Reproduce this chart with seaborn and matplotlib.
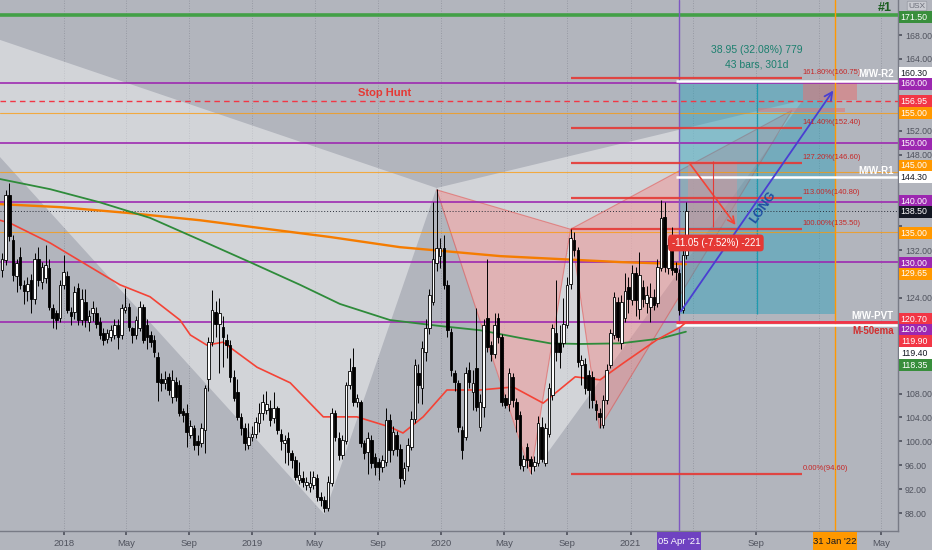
import numpy as np
import pandas as pd
import matplotlib
matplotlib.use("Agg")
import matplotlib.pyplot as plt
import matplotlib.dates as mdates
from matplotlib.patches import Polygon, Rectangle
import seaborn as sns

# weekly candles, first week 2017-09-04
opens = [128.7, 130.3, 141.2, 133.7, 127.6, 130.9, 126.2, 125.1, 127.0, 123.9,
         130.6, 126.7, 127.3, 129.0, 122.3, 121.4, 120.6, 126.2, 127.6, 121.7,
         121.7, 125.6, 120.3, 123.4, 119.9, 121.4, 121.4, 120.0, 118.1, 117.2,
         117.5, 117.8, 119.5, 117.8, 122.0, 122.5, 118.9, 117.8, 119.0, 122.5,
         119.5, 117.8, 117.0, 114.2, 110.5, 109.7, 110.8, 107.5, 110.0, 109.4,
         105.0, 104.7, 101.1, 102.2, 100.0, 99.7, 101.9, 110.5, 116.7, 121.7,
         119.7, 119.2, 117.0, 116.1, 110.8, 108.3, 104.1, 102.2, 99.4, 100.8,
         101.3, 103.0, 104.7, 105.2, 105.5, 103.9, 105.5, 101.3, 99.7, 100.5,
         98.0, 96.9, 93.5, 93.8, 92.7, 92.4, 92.7, 93.8, 90.7, 90.2,
         88.8, 93.0, 104.7, 100.5, 97.7, 100.0, 109.4, 112.5, 106.6, 106.6,
         99.7, 98.3, 100.2, 97.4, 96.6, 95.7, 96.6, 103.5, 98.5, 101.0,
         98.8, 93.5, 95.8, 99.1, 103.8, 111.4, 108.9, 115.0, 118.9, 123.4,
         129.8, 131.0, 132.3, 126.2, 118.3, 111.4, 109.7, 101.9, 100.8, 111.9,
         108.3, 112.2, 102.4, 105.8, 120.6, 116.1, 114.7, 120.6, 117.5, 107.2,
         106.3, 110.8, 106.6, 104.4, 95.8, 99.1, 97.1, 95.8, 96.3, 102.4,
         96.3, 101.3, 107.8, 118.1, 116.4, 116.4, 119.5, 126.4, 133.7, 132.0,
         112.8, 113.0, 111.1, 110.8, 106.3, 104.7, 102.7, 106.9, 112.8, 117.8,
         123.4, 116.4, 120.6, 125.9, 123.6, 128.1, 122.2, 125.9, 123.1, 122.5,
         124.2, 123.1, 129.0, 137.6, 129.0, 132.9, 129.0, 128.1, 122.0, 131.2]
closes = [130.6, 141.2, 134.3, 127.8, 129.8, 126.2, 125.1, 126.4, 123.9, 130.6,
          127.0, 129.2, 129.5, 122.5, 120.6, 120.3, 126.2, 128.4, 122.0, 120.9,
          125.0, 120.3, 123.9, 120.3, 120.9, 122.3, 119.7, 117.8, 117.0, 118.1,
          118.6, 119.5, 117.5, 122.3, 122.5, 119.2, 117.8, 120.3, 122.5, 117.0,
          117.5, 116.7, 115.0, 110.0, 109.7, 110.5, 108.6, 110.3, 107.5, 104.7,
          104.4, 101.6, 102.5, 99.4, 99.4, 102.2, 108.9, 116.7, 122.0, 119.7,
          121.4, 117.5, 116.1, 110.8, 107.2, 104.1, 102.2, 99.7, 100.8, 101.3,
          103.3, 104.7, 106.6, 106.3, 103.6, 105.5, 101.9, 100.0, 100.2, 98.3,
          96.9, 94.1, 94.4, 93.2, 93.2, 93.0, 94.1, 90.7, 90.2, 88.8,
          93.2, 104.7, 100.8, 97.7, 100.2, 109.4, 111.7, 106.6, 107.2, 99.7,
          98.0, 100.5, 96.3, 95.7, 95.7, 96.9, 103.5, 98.5, 101.5, 98.8,
          93.8, 95.5, 99.4, 103.8, 112.8, 109.4, 115.6, 118.9, 124.5, 130.6,
          132.3, 132.3, 126.2, 118.6, 111.9, 110.0, 102.4, 98.5, 111.4, 110.0,
          109.7, 105.8, 106.6, 119.5, 115.8, 114.7, 119.5, 117.5, 106.6, 106.1,
          111.4, 106.9, 103.8, 96.0, 97.1, 96.9, 95.8, 96.6, 103.0, 97.1,
          102.2, 108.9, 118.9, 115.0, 115.0, 119.7, 126.2, 134.0, 132.0, 113.3,
          113.6, 108.9, 108.6, 106.9, 105.2, 104.1, 106.9, 111.9, 118.1, 124.2,
          117.5, 123.4, 125.1, 123.9, 128.1, 123.6, 127.8, 123.9, 124.5, 124.2,
          122.8, 129.2, 137.3, 129.2, 132.9, 128.7, 128.4, 122.0, 131.2, 138.5]
highs = [131.5, 142.0, 143.2, 134.5, 130.5, 132.5, 127.0, 127.5, 128.0, 131.5,
         132.5, 130.0, 132.9, 130.5, 123.0, 122.0, 127.0, 131.2, 128.5, 122.5,
         126.0, 126.5, 125.5, 125.5, 122.0, 123.5, 122.5, 120.8, 119.0, 118.8,
         119.5, 120.5, 120.5, 123.0, 125.6, 123.2, 119.2, 121.0, 123.5, 123.0,
         120.5, 118.5, 117.8, 115.0, 111.5, 111.8, 111.5, 112.0, 110.8, 110.3,
         105.5, 106.3, 103.5, 102.8, 101.0, 103.0, 109.5, 117.5, 125.3, 123.5,
         124.0, 121.0, 118.0, 117.0, 112.0, 110.5, 104.8, 103.0, 103.0, 102.5,
         104.0, 106.5, 108.0, 108.5, 107.0, 108.2, 106.0, 102.0, 101.0, 101.5,
         98.6, 97.5, 96.5, 95.0, 94.0, 95.0, 95.0, 94.5, 91.5, 90.8,
         94.2, 105.5, 105.3, 101.5, 101.0, 110.0, 113.9, 115.6, 108.0, 107.0,
         100.2, 101.5, 101.0, 98.0, 97.2, 97.8, 105.5, 104.5, 102.5, 101.8,
         99.5, 96.5, 100.5, 105.0, 113.8, 113.0, 116.8, 120.5, 125.5, 140.1,
         142.3, 134.0, 134.5, 127.0, 119.0, 112.0, 110.3, 102.5, 112.5, 113.3,
         112.0, 122.3, 108.0, 120.5, 130.6, 116.8, 121.4, 121.4, 118.0, 108.0,
         112.2, 111.5, 107.2, 105.0, 97.8, 99.8, 97.5, 97.5, 104.2, 104.0,
         103.0, 109.8, 119.6, 127.0, 119.5, 124.0, 127.5, 135.5, 135.0, 132.5,
         114.5, 114.0, 112.0, 111.8, 107.0, 105.5, 107.8, 113.0, 118.8, 125.0,
         124.2, 124.5, 128.1, 127.5, 129.5, 129.2, 131.7, 127.0, 126.0, 126.5,
         125.5, 130.5, 140.4, 140.1, 134.0, 135.9, 130.0, 128.8, 132.0, 140.1]
lows = [127.5, 129.5, 133.5, 126.8, 125.0, 125.5, 123.0, 123.5, 121.5, 123.0,
        126.0, 125.5, 126.5, 122.0, 119.0, 118.8, 120.0, 125.5, 121.5, 119.5,
        120.5, 119.5, 119.5, 119.2, 118.5, 120.2, 119.0, 117.2, 116.2, 116.5,
        116.8, 117.2, 115.5, 117.2, 121.5, 118.5, 116.5, 117.2, 118.5, 116.5,
        115.5, 115.8, 114.2, 106.8, 108.5, 108.8, 107.8, 106.5, 106.8, 104.2,
        103.2, 99.1, 100.5, 98.5, 97.8, 99.0, 98.0, 108.5, 116.0, 117.5,
        111.4, 112.5, 114.0, 110.0, 106.8, 103.5, 101.0, 98.5, 98.8, 100.0,
        100.5, 101.5, 103.5, 104.5, 102.5, 103.0, 101.2, 98.5, 96.3, 96.0,
        95.5, 93.5, 92.8, 92.4, 91.8, 91.5, 92.0, 90.0, 89.2, 88.2,
        88.3, 92.5, 100.0, 96.8, 97.0, 99.5, 108.8, 106.0, 105.8, 99.0,
        97.0, 94.6, 95.5, 94.4, 93.5, 94.8, 95.8, 96.5, 97.8, 97.5,
        92.4, 92.8, 95.0, 98.5, 103.0, 106.5, 106.3, 113.5, 118.0, 122.8,
        128.5, 129.0, 125.5, 117.5, 111.0, 108.5, 101.5, 97.1, 100.2, 109.0,
        105.2, 105.0, 101.8, 104.0, 115.0, 113.5, 114.0, 116.5, 106.0, 105.5,
        105.0, 105.8, 101.5, 95.3, 95.0, 95.5, 94.6, 95.0, 95.8, 96.6,
        95.8, 100.8, 107.0, 113.5, 112.2, 115.8, 119.0, 125.5, 131.0, 112.5,
        109.5, 108.0, 105.5, 105.5, 103.5, 102.2, 102.2, 106.3, 112.3, 117.2,
        116.8, 115.5, 120.0, 121.5, 122.8, 121.0, 120.5, 122.5, 121.5, 120.0,
        122.0, 122.5, 128.5, 128.3, 128.0, 127.8, 127.0, 121.2, 121.5, 130.5]
candle_dates = pd.date_range("2017-09-04", periods=len(closes), freq="W-MON")

# moving averages
sma_dates = ["2017-08-31", "2017-12-25", "2018-05-09", "2018-09-22", "2019-01-16", "2019-05-31",
             "2019-10-13", "2019-12-30", "2020-04-24", "2020-08-18", "2020-12-12", "2021-04-18"]
sma_vals = [139.7, 139.2, 138.2, 137.0, 135.7, 134.2, 132.5, 131.9, 131.0, 130.5, 130.0, 129.65]
mid_dates = ["2017-08-31", "2017-12-06", "2018-03-12", "2018-06-17", "2018-09-22", "2018-12-27",
             "2019-04-03", "2019-06-19", "2019-09-24", "2019-12-30", "2020-03-16", "2020-06-02",
             "2020-07-30", "2020-09-26", "2020-12-12", "2021-02-27", "2021-04-18"]
mid_vals = [143.9, 142.2, 140.0, 137.4, 133.7, 130.0, 126.2, 123.0, 120.3, 119.3, 118.6, 117.3,
            116.4, 116.3, 116.4, 117.2, 118.35]
ema_dates = ["2017-08-31", "2017-09-20", "2017-12-06", "2018-02-21", "2018-04-20", "2018-06-17",
             "2018-08-14", "2018-09-03", "2018-10-05", "2018-11-05", "2019-01-10", "2019-03-15",
             "2019-05-18", "2019-07-22", "2019-09-24", "2019-10-19", "2019-11-27", "2020-01-12",
             "2020-03-16", "2020-05-19", "2020-07-16", "2020-09-16", "2020-11-03", "2020-12-18",
             "2021-02-21", "2021-04-07", "2021-04-18"]
ema_vals = [137.0, 136.5, 133.2, 129.2, 126.2, 124.2, 120.3, 117.8, 116.1, 116.6, 112.4, 109.8,
            104.1, 104.1, 102.4, 101.4, 104.1, 108.6, 108.6, 109.1, 106.4, 110.8, 110.3, 113.1,
            117.0, 119.1, 119.9]

# horizontal levels
purple_levels = [160.0, 150.0, 140.0, 130.0, 120.0]
orange_levels = [155.0, 145.0, 135.0]
green_level = 171.4
stop_hunt = 156.95
last_price = 138.5
white_levels = [160.30, 144.30, 119.40]
ema_level = 119.90
pivot_start = "2021-03-29"

# fib extension of the pink pattern
fib_names = ["161.80%", "141.40%", "127.20%", "113.00%", "100.00%", "0.00%"]
fib_prices = [160.75, 152.40, 146.60, 140.80, 135.50, 94.60]
fib_start, fib_end = "2020-09-07", "2021-11-29"

# harmonic patterns X, A, B, C, D
grey_dates = ["2016-11-07", "2019-05-20", "2019-12-23", "2020-06-22", "2021-11-30"]
grey_prices = [175.9, 87.8, 142.4, 94.2, 157.1]
pink_dates = ["2019-12-23", "2020-06-22", "2020-09-07", "2020-11-02", "2021-11-09"]
pink_prices = [142.1, 94.6, 135.5, 102.2, 155.4]

# long position and price range tools
long_start, long_end = "2021-04-05", "2022-01-31"
long_entry, long_target = 121.35, 160.30
long_mid = "2021-09-02"
range_start, range_end, range_mid = "2021-04-22", "2021-07-26", "2021-06-09"
range_top, range_bottom = 146.9, 135.85
target_box = ("2021-11-30", "2022-03-15", 157.1, 160.1)
target_bar = ("2021-09-04", "2022-02-20", 155.1, 155.8)

# right axis tags
tag_values = ["171.50", "160.30", "160.00", "156.95", "155.00", "150.00", "145.00", "144.30",
              "140.00", "138.50", "135.00", "130.00", "129.65", "120.70", "120.00", "119.90",
              "119.40", "118.35"]
tag_faces = ["#388e3c", "white", "#9c27b0", "#f23645", "#ff9800", "#9c27b0", "#ff9800", "white",
             "#9c27b0", "#131722", "#ff9800", "#9c27b0", "#ff9800", "#f23645", "#9c27b0", "#f23645",
             "white", "#388e3c"]
tag_rows = [17, 73, 84, 101, 113, 144, 166, 177, 201, 212, 233, 263, 274, 319, 330, 341, 353, 365]
hidden_ticks = [160, 156, 144, 140, 136, 128, 120, 116, 112]

BG = "#b2b5bd"
W, H = 932, 550

sns.set_theme(style="white")
plt.rcParams["font.family"] = ["Liberation Sans", "DejaVu Sans"]

fig = plt.figure(figsize=(W / 100, H / 100), dpi=100, facecolor=BG)
ax = fig.add_axes([0, 19 / H, 898 / W, 531 / H], facecolor=BG)


def num(d):
    return mdates.date2num(pd.Timestamp(d))


x_lo, x_hi = num("2017-08-31"), num("2022-06-02")
ax.set_xlim(x_lo, x_hi)
ax.set_ylim(85.0, 173.86)


def fig_x(d):
    return (num(d) - x_lo) / (x_hi - x_lo) * 898 / W


# patterns
gx = [num(d) for d in grey_dates]
px = [num(d) for d in pink_dates]
for idx in ([0, 1, 2], [2, 3, 4]):
    ax.add_patch(Polygon([(gx[i], grey_prices[i]) for i in idx], closed=True,
                         fc="white", ec="none", alpha=0.42, zorder=1))
for idx in ([0, 1, 2], [2, 3, 4]):
    ax.add_patch(Polygon([(px[i], pink_prices[i]) for i in idx], closed=True,
                         fc="#f28a8a", ec="#e53935", lw=0.8, alpha=0.45, zorder=1.2))

# long position box
ax.add_patch(Rectangle((num(long_start), long_entry), num(long_end) - num(long_start),
                       long_target - long_entry, fc="#2aa1bb", ec="none", alpha=0.45, zorder=1.3))
ax.vlines(num(long_mid), long_entry, long_target, color="#1e9bb0", lw=0.9, zorder=1.4)
ax.add_patch(Rectangle((num(target_box[0]), target_box[2]), num(target_box[1]) - num(target_box[0]),
                       target_box[3] - target_box[2], fc="#e57373", ec="none", alpha=0.55, zorder=1.4))
ax.add_patch(Rectangle((num(target_bar[0]), target_bar[2]), num(target_bar[1]) - num(target_bar[0]),
                       target_bar[3] - target_bar[2], fc="#e57373", ec="none", alpha=0.55, zorder=1.4))
ax.add_patch(Rectangle((num(range_start), range_bottom), num(range_end) - num(range_start),
                       range_top - range_bottom, fc="#f28a8a", ec="none", alpha=0.35, zorder=1.4))

# horizontal lines
ax.axhline(green_level, color="#43a047", lw=2.6, zorder=2)
for lv in purple_levels:
    ax.axhline(lv, color="#9c27b0", lw=1.3, alpha=0.9, zorder=2)
for lv in orange_levels:
    ax.axhline(lv, color="#ff9800", lw=0.8, alpha=0.7, zorder=2)
ax.axhline(stop_hunt, color="#f23645", lw=1.0, ls=(0, (4, 3)), zorder=2)
ax.axhline(last_price, color="#2a2e39", lw=0.7, ls=(0, (1, 2)), zorder=2)
ax.hlines(fib_prices, num(fib_start), num(fib_end), color="#e53935", lw=1.6, alpha=0.9, zorder=2.1)
ax.hlines(ema_level, num(pivot_start), x_hi, color="#f23645", lw=2.0, zorder=2.2)
ax.hlines(white_levels, num(pivot_start), x_hi, color="white", lw=1.8, zorder=2.2)

# vertical markers
ax.axvline(num(long_start), color="#7e57c2", lw=1.0, zorder=2)
ax.axvline(num(long_end), color="#ff9800", lw=1.0, zorder=2)

# moving averages
sns.lineplot(x=[num(d) for d in sma_dates], y=sma_vals, ax=ax, color="#f57c00", lw=1.7, zorder=3)
sns.lineplot(x=[num(d) for d in mid_dates], y=mid_vals, ax=ax, color="#2e8b3a", lw=1.3, zorder=3)
sns.lineplot(x=[num(d) for d in ema_dates], y=ema_vals, ax=ax, color="#f44336", lw=1.2, zorder=3)

# candles
xs = mdates.date2num(candle_dates)
o = np.array(opens)
c = np.array(closes)
up = c >= o
ax.vlines(xs, lows, highs, color="black", lw=0.7, zorder=4)
ax.bar(xs[up], (c - o)[up], bottom=o[up], width=5, color="white", edgecolor="black", lw=0.6, zorder=4.1)
ax.bar(xs[~up], (o - c)[~up], bottom=c[~up], width=5, color="black", edgecolor="black", lw=0.6, zorder=4.1)

# drawings on top
ax.annotate("", xy=(num(long_end), 159.1), xytext=(num(long_start), long_entry),
            arrowprops=dict(arrowstyle="->", color="#4a3fd1", lw=1.3, mutation_scale=14), zorder=5)
ax.text(num("2021-09-14"), 139.2, "LONG", color="#1e4fa3", fontsize=9, fontweight="bold",
        rotation=55, ha="center", va="center", zorder=6)
ax.annotate("", xy=(num(range_end), range_bottom), xytext=(num(range_start), range_top),
            arrowprops=dict(arrowstyle="->", color="#f44336", lw=1.2, mutation_scale=12), zorder=5)
ax.vlines(num(range_mid), range_bottom, range_top, color="#e53935", lw=0.8, zorder=5)
ax.text(num("2021-06-15"), 133.2, "-11.05 (-7.52%) -221", color="white", fontsize=7,
        ha="center", va="center", zorder=6,
        bbox=dict(boxstyle="round,pad=0.35", fc="#e53935", ec="none"))
ax.text(num(long_mid), 165.5, "38.95 (32.08%) 779", color="#1b7f6e", fontsize=7.5,
        ha="center", va="center", zorder=6)
ax.text(num(long_mid), 163.1, "43 bars, 301d", color="#1b7f6e", fontsize=7.5,
        ha="center", va="center", zorder=6)
ax.text(num("2019-09-14"), 158.3, "Stop Hunt", color="#e53935", fontsize=8, fontweight="bold",
        ha="center", va="center", zorder=6)
for name, p in zip(fib_names, fib_prices):
    ax.text(num(fib_end) + 1, p + 0.9, f"{name}({p:.2f})", color="#c62828", fontsize=5.5,
            ha="left", va="center", zorder=6)

for txt, yv, col in [("M/W-R2", 161.5, "white"), ("M/W-R1", 145.2, "white"),
                     ("M/W-PVT", 121.0, "white"), ("M-50ema", 118.5, "#d32f2f")]:
    ax.annotate(txt, xy=(0.995, yv), xycoords=("axes fraction", "data"), ha="right", va="center",
                color=col, fontsize=7, fontweight="bold", zorder=6)

# axes styling
ax.yaxis.tick_right()
ticks_y = np.arange(88, 169, 4)
ax.set_yticks(ticks_y)
ax.set_yticklabels(["" if v in hidden_ticks else f"{v:.2f}" for v in ticks_y])
tick_dates, tick_text = [], []
for yr in range(2018, 2023):
    for mo, lab in [(1, str(yr)), (5, "May"), (9, "Sep")]:
        d = pd.Timestamp(yr, mo, 1)
        if d <= pd.Timestamp("2022-05-01"):
            tick_dates.append(num(d))
            # labels under the date tags are hidden
            covered = abs(num(d) - num(long_start)) < 40 or abs(num(d) - num(long_end)) < 40
            tick_text.append("" if covered else lab)
ax.set_xticks(tick_dates)
ax.set_xticklabels(tick_text)
ax.tick_params(axis="y", length=3, pad=2, labelsize=6.3, colors="#50535e", right=True, left=False)
ax.tick_params(axis="x", length=3, pad=3, labelsize=6.8, colors="#50535e", bottom=True)
ax.grid(True, axis="x", color="#8e919a", lw=0.6, ls=(0, (1, 2)))
ax.grid(False, axis="y")
ax.set_axisbelow(True)
ax.set_xlabel("")
ax.set_ylabel("")
for s in ["top", "left"]:
    ax.spines[s].set_visible(False)
for s in ["right", "bottom"]:
    ax.spines[s].set_color("#787b86")
    ax.spines[s].set_linewidth(1.0)

# price tags on the right axis
for val, face, row in zip(tag_values, tag_faces, tag_rows):
    fg = "#131722" if face == "white" else "white"
    fig.add_artist(Rectangle((899 / W, 1 - (row + 6) / H), 33 / W, 12 / H,
                             transform=fig.transFigure, fc=face, ec="none"))
    fig.text(914 / W, 1 - row / H, val, ha="center", va="center", fontsize=6.3, color=fg)

# date tags on the time axis
for d, face, fg, lab in [(long_start, "#6f42c1", "white", "05 Apr '21"),
                         (long_end, "#ff9800", "#131722", "31 Jan '22")]:
    cx = fig_x(d)
    fig.add_artist(Rectangle((cx - 22 / W, 0), 44 / W, 18 / H, transform=fig.transFigure,
                             fc=face, ec="none"))
    fig.text(cx, 9 / H, lab, ha="center", va="center", fontsize=6.8, color=fg)

fig.text(885 / W, 1 - 8 / H, "#1", ha="center", va="center", fontsize=9, fontweight="bold",
         color="#1b5e20")
fig.text(917 / W, 1 - 6 / H, "USX", ha="center", va="center", fontsize=6, color="#6a6d78",
         bbox=dict(boxstyle="round,pad=0.15", fc="#c9cbd1", ec="#9598a1", lw=0.5))

fig.savefig("out.png", dpi=100, facecolor=BG)
